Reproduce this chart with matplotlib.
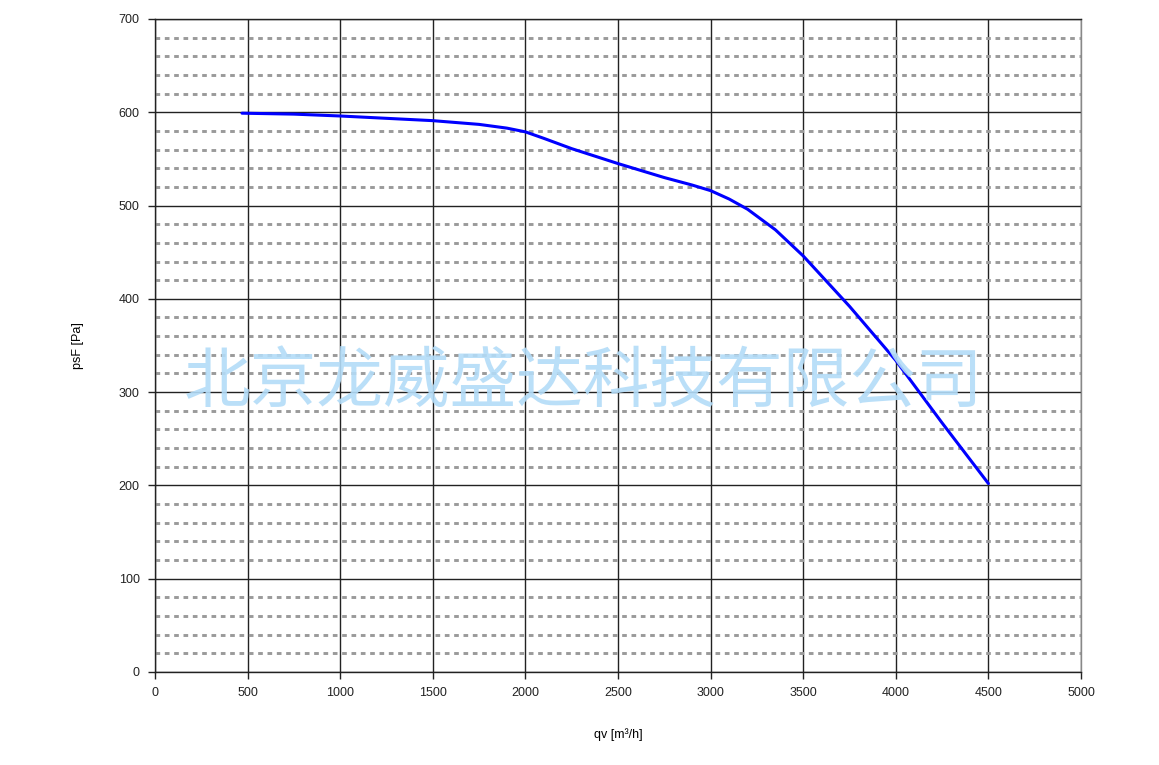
import numpy as np
import matplotlib.pyplot as plt
from matplotlib.ticker import MultipleLocator

# fan curve
qv = [470, 750, 1000, 1300, 1500, 1750, 1900, 2000, 2100, 2250, 2500, 2750, 2900,
      3000, 3100, 3200, 3350, 3500, 3750, 4000, 4250, 4500]
psf = [599, 598, 596, 593, 591, 587, 583, 579, 572, 561, 545, 530, 522,
       516, 507, 496, 474, 446, 392, 334, 267, 202]

watermark = "北京龙威盛达科技有限公司"

plt.rcParams['font.family'] = ['Liberation Sans', 'DejaVu Sans']

fig = plt.figure(figsize=(11.59, 7.65), dpi=100)
ax = fig.add_axes([0.1337, 0.1216, 0.799, 0.8536])

ax.set_xlim(0, 5000)
ax.set_ylim(0, 700)
ax.xaxis.set_major_locator(MultipleLocator(500))
ax.yaxis.set_major_locator(MultipleLocator(100))
ax.yaxis.set_minor_locator(MultipleLocator(20))

ax.grid(which='major', color='#222222', linewidth=1.0)
ax.grid(which='minor', axis='y', color='#9a9a9a', linewidth=2.1, linestyle=(0, (1.6, 1.6)))
ax.set_axisbelow(True)

ax.plot(qv, psf, color='#0000ff', linewidth=2.2, solid_capstyle='round',
        solid_joinstyle='round', zorder=3)

ax.text(0.463, 0.442, watermark, transform=ax.transAxes, ha='center', va='center',
        fontsize=48, color='#b3dcf8', alpha=0.9, family=['Noto Sans CJK SC', 'DejaVu Sans'], zorder=4)

for s in ['left', 'bottom', 'top']:
    ax.spines[s].set_color('#222222')
    ax.spines[s].set_linewidth(1.0)
ax.spines['right'].set_color('#888888')
ax.spines['right'].set_linewidth(1.0)

ax.tick_params(which='major', direction='out', length=5, width=1.0, labelsize=9, colors='#222222', pad=6)
ax.tick_params(which='minor', length=0)

ax.set_ylabel('psF [Pa]', fontsize=9, labelpad=25)
ax.set_xlabel('qv [m³/h]', fontsize=9, labelpad=21)

fig.savefig('out.png', dpi=100)
